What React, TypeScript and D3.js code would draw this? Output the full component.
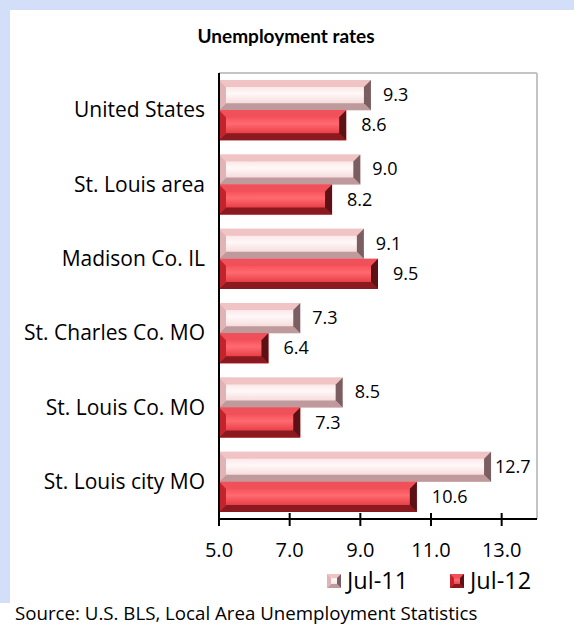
import React from "react";
import * as d3 from "d3";

const categories = [
  "United States",
  "St. Louis area",
  "Madison Co. IL",
  "St. Charles Co. MO",
  "St. Louis Co. MO",
  "St. Louis city MO",
];
const seriesNames = ["Jul-11", "Jul-12"];
const jul11 = [9.3, 9.0, 9.1, 7.3, 8.5, 12.7];
const jul12 = [8.6, 8.2, 9.5, 6.4, 7.3, 10.6];
const xTicks = [5, 7, 9, 11, 13];

const W = 574;
const H = 629;
const font = "'Open Sans', sans-serif";

const palettes = [
  {
    id: "p11",
    top: "#f0c3c5",
    bottom: "#bf9a9d",
    left: "#e2b3b5",
    right: "#7a5e62",
    stops: ["#f7d6d7", "#fff8f8", "#efc7c8"],
  },
  {
    id: "p12",
    top: "#f0505a",
    bottom: "#8a1a20",
    left: "#c4232b",
    right: "#5c1115",
    stops: ["#ee3a43", "#ff6a70", "#d81f28"],
  },
];

function Bevel({ x0, x1, y0, y1, p, b }: any) {
  const bx = Math.min(b, (x1 - x0) / 2);
  const pts = (a: number[][]) => a.map((d) => d.join(",")).join(" ");
  return (
    <g>
      <rect x={x0} y={y0} width={x1 - x0} height={y1 - y0} fill={`url(#${p.id})`} />
      <polygon points={pts([[x0, y0], [x1, y0], [x1 - bx, y0 + b], [x0 + bx, y0 + b]])} fill={p.top} />
      <polygon points={pts([[x0, y1], [x1, y1], [x1 - bx, y1 - b], [x0 + bx, y1 - b]])} fill={p.bottom} />
      <polygon points={pts([[x0, y0], [x0 + bx, y0 + b], [x0 + bx, y1 - b], [x0, y1]])} fill={p.left} />
      <polygon points={pts([[x1, y0], [x1 - bx, y0 + b], [x1 - bx, y1 - b], [x1, y1]])} fill={p.right} />
    </g>
  );
}

export default function App() {
  const left = 219;
  const right = 537;
  const top = 73;
  const bottom = 519;

  const x = d3.scaleLinear().domain([5, 14]).range([left, right]);
  const y = d3
    .scaleBand<string>()
    .domain(categories)
    .range([top, bottom])
    .paddingInner(0.19)
    .paddingOuter(0.095);
  const sub = d3
    .scaleBand<string>()
    .domain(seriesNames)
    .range([0, y.bandwidth()]);

  const series = [jul11, jul12];
  const labelGap = [12, 15];

  return (
    <div style={{ position: "absolute", left: 0, top: 0 }}>
      <svg width={W} height={H} style={{ display: "block" }}>
        <defs>
          {palettes.map((p) => (
            <linearGradient key={p.id} id={p.id} x1="0" y1="0" x2="0" y2="1">
              <stop offset="0" stopColor={p.stops[0]} />
              <stop offset="0.45" stopColor={p.stops[1]} />
              <stop offset="1" stopColor={p.stops[2]} />
            </linearGradient>
          ))}
        </defs>
        <rect width={W} height={H} fill="#ffffff" />
        <rect x={0} y={0} width={W} height={10} fill="#d3dff9" />
        <rect x={0} y={0} width={10} height={603} fill="#d3dff9" />

        <text
          x={286}
          y={43}
          textAnchor="middle"
          fontFamily="Lato, sans-serif"
          fontWeight="bold"
          fontSize={19}
          fill="#000"
        >
          Unemployment rates
        </text>

        {/* frame */}
        <line x1={left} x2={right} y1={top} y2={top} stroke="#c4c4c4" strokeWidth={2} />
        <line x1={right} x2={right} y1={top} y2={bottom} stroke="#c4c4c4" strokeWidth={2} />

        {/* bars */}
        {categories.map((c, i) => (
          <g key={c}>
            {series.map((vals, s) => {
              const y0 = (y(c) as number) + (sub(seriesNames[s]) as number);
              const y1 = y0 + sub.bandwidth();
              const x1 = x(vals[i]);
              const label = vals[i].toFixed(1);
              const w = label.length * 9;
              const lx = Math.min(x1 + labelGap[s], right - 6 - w);
              return (
                <g key={s}>
                  <Bevel x0={left} x1={x1} y0={y0} y1={y1} p={palettes[s]} b={7} />
                  <text
                    x={lx}
                    y={(y0 + y1) / 2 + 6}
                    fontFamily={font}
                    fontSize={18}
                    fill="#000"
                  >
                    {label}
                  </text>
                </g>
              );
            })}
            <text
              x={205}
              y={(y(c) as number) + y.bandwidth() / 2 + 7}
              textAnchor="end"
              fontFamily={font}
              fontSize={21}
              fill="#000"
            >
              {c}
            </text>
          </g>
        ))}

        {/* axes */}
        <line x1={left} x2={left} y1={top} y2={bottom + 7} stroke="#000" strokeWidth={2} />
        <line x1={left - 1} x2={right} y1={bottom} y2={bottom} stroke="#000" strokeWidth={2} />
        {xTicks.map((t) => (
          <g key={t}>
            <line x1={x(t)} x2={x(t)} y1={bottom - 6} y2={bottom + 7} stroke="#000" strokeWidth={2} />
            <text
              x={x(t)}
              y={557}
              textAnchor="middle"
              fontFamily={font}
              fontSize={20}
              fill="#000"
            >
              {t.toFixed(1)}
            </text>
          </g>
        ))}

        {/* legend */}
        {seriesNames.map((n, s) => {
          const lx = [327, 450][s];
          return (
            <g key={n}>
              <Bevel x0={lx} x1={lx + 14} y0={574} y1={588} p={palettes[s]} b={4} />
              <text x={lx + 20} y={589} fontFamily={font} fontSize={23.5} fill="#000">
                {n}
              </text>
            </g>
          );
        })}

        <text x={15} y={620} fontFamily={font} fontSize={18.7} fill="#000">
          Source: U.S. BLS, Local Area Unemployment Statistics
        </text>
      </svg>
    </div>
  );
}
